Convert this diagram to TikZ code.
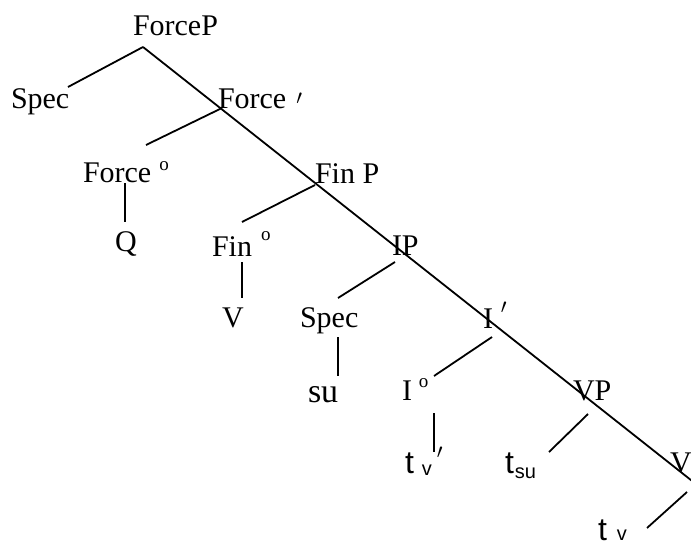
\documentclass[tikz,border=0pt]{standalone}
\usepackage{fontspec}
\setmainfont{Liberation Serif}
\newfontfamily\sansf{Liberation Sans}
\newcommand\degsup[2]{\hspace{#1pt}\raisebox{#2pt}{\fontsize{19}{19}\selectfont o}}
\newcommand\primesup[2]{\hspace{#1pt}\raisebox{#2pt}{\fontsize{20}{20}\selectfont$\prime$}}
\newcommand\subtxt[2]{\raisebox{#1pt}{\fontsize{20}{20}\selectfont #2}}
\begin{document}
\begin{tikzpicture}[x=1pt,y=-1pt,
  lbl/.style={anchor=base west, inner sep=0pt, outer sep=0pt, font=\fontsize{30}{36}\selectfont},
  trace/.style={lbl, font=\sansf\fontsize{32}{38}\selectfont},
  edge/.style={line width=1.8pt}]
\useasboundingbox (0,0) rectangle (691,549);

% labels
\node[lbl] (forcep) at (133,35) {ForceP};
\node[lbl] (spec1) at (11,108) {Spec};
\node[lbl] (forcebar) at (218,108) {Force\primesup{10}{4}};
\node[lbl] (forceo) at (83,182) {Force\degsup{8}{12}};
\node[lbl] (q) at (115,251) {Q};
\node[lbl] (finp) at (315,183) {Fin P};
\node[lbl] (fino) at (212,256) {Fin\degsup{9}{16}};
\node[lbl] (v1) at (222,327) {V};
\node[lbl] (ip) at (392,255) {IP};
\node[lbl] (spec2) at (300,327) {Spec};
\node[lbl, font=\fontsize{34}{40}\selectfont] (su) at (308,402) {su};
\node[lbl] (ibar) at (483,328) {I\primesup{8}{15}};
\node[lbl] (io) at (402,400) {I\degsup{7}{13}};
\node[trace] (tv1) at (405,473) {t\hspace{8pt}\subtxt{-2}{v}\primesup{5}{15}};
\node[lbl] (vp) at (573,400) {VP};
\node[trace] (tsu) at (505,473) {t\hspace{1pt}\subtxt{-5}{su}};
\node[lbl] (v2) at (670,472) {V};
\node[trace] (tv2) at (598,540) {t\hspace{10pt}\subtxt{0}{v}};

% branch points
\coordinate (top) at (143,47);
\coordinate (spineend) at (701,488);
\coordinate (spec1-t) at (68,87);
\coordinate (forcebar-b) at (222,108);
\coordinate (forceo-t) at (146,145);
\coordinate (forceo-b) at (125,183);
\coordinate (q-t) at (125,222);
\coordinate (finp-b) at (315,185);
\coordinate (fino-t) at (242,222);
\coordinate (fino-b) at (242,262);
\coordinate (v1-t) at (242,298);
\coordinate (ip-b) at (395,262);
\coordinate (spec2-t) at (338,298);
\coordinate (spec2-b) at (338,337);
\coordinate (su-t) at (338,376);
\coordinate (ibar-b) at (492,337);
\coordinate (io-t) at (434,376);
\coordinate (io-b) at (434,413);
\coordinate (tv1-t) at (434,452);
\coordinate (vp-b) at (588,414);
\coordinate (tsu-t) at (549,452);
\coordinate (v2-b) at (687,492);
\coordinate (tv2-t) at (647,528);

% connectors
\draw[edge] (top) -- (spineend);
\draw[edge] (top) -- (spec1-t);
\draw[edge] (forcebar-b) -- (forceo-t);
\draw[edge] (forceo-b) -- (q-t);
\draw[edge] (finp-b) -- (fino-t);
\draw[edge] (fino-b) -- (v1-t);
\draw[edge] (ip-b) -- (spec2-t);
\draw[edge] (spec2-b) -- (su-t);
\draw[edge] (ibar-b) -- (io-t);
\draw[edge] (io-b) -- (tv1-t);
\draw[edge] (vp-b) -- (tsu-t);
\draw[edge] (v2-b) -- (tv2-t);
\end{tikzpicture}
\end{document}
